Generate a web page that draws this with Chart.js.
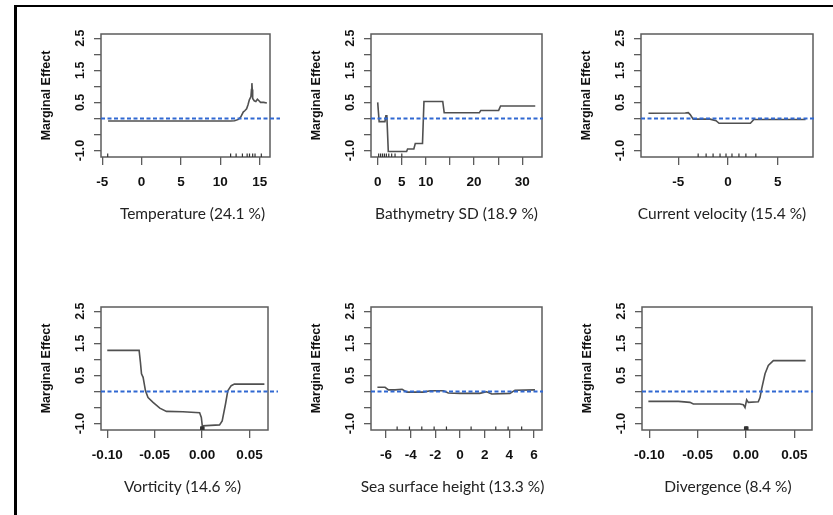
<!DOCTYPE html>
<html>
<head>
<meta charset="utf-8">
<script src="https://cdn.jsdelivr.net/npm/chart.js@4.4.1/dist/chart.umd.min.js"></script>
<style>
  html, body { margin: 0; padding: 0; background: #fff; }
  body { width: 833px; height: 515px; position: relative; overflow: hidden; }
  #moldura { position: absolute; left: 14px; top: 5px; width: 840px; height: 530px;
             border-left: 3px solid #000; border-top: 2px solid #000; }
  canvas { position: absolute; }
</style>
</head>
<body>
<div id="moldura"></div>
<canvas id="p1"></canvas>
<canvas id="p2"></canvas>
<canvas id="p3"></canvas>
<canvas id="p4"></canvas>
<canvas id="p5"></canvas>
<canvas id="p6"></canvas>
<script>
// ===== Dados =====
const yTicks = [-1.0, -0.5, 0.0, 0.5, 1.0, 1.5, 2.0, 2.5];
const yLabelled = [-1.0, 0.5, 1.5, 2.5];

// Temperature
const tempX = [-4.25, 11.3, 11.8, 12.3, 12.6, 12.9, 13.1, 13.33, 13.5, 13.68, 13.88, 13.95, 14.0, 14.05, 14.1, 14.3, 14.5, 14.7, 14.9, 15.1, 15.5, 15.9];
const tempY = [-0.08, -0.08, -0.07, -0.03, 0.05, 0.2, 0.24, 0.3, 0.42, 0.58, 0.68, 0.9, 1.1, 0.9, 0.62, 0.55, 0.53, 0.6, 0.55, 0.5, 0.5, 0.48];
const tempRug = [-4.3, 11.3, 12.0, 12.8, 13.4, 13.7, 14.1, 14.4, 15.2];
const tempTicks = [-5, 0, 5, 10, 15];

// Bathymetry SD
const bathX = [0, 0.3, 1.5, 1.7, 1.9, 2.2, 6.0, 6.2, 7.5, 7.8, 9.3, 9.6, 13.5, 13.8, 21.1, 21.4, 25.1, 25.5, 32.7];
const bathY = [0.5, -0.1, -0.1, 0.08, 0.08, -1.03, -1.03, -0.95, -0.95, -0.78, -0.78, 0.53, 0.53, 0.18, 0.18, 0.25, 0.25, 0.39, 0.39];
const bathRug = [0.2, 0.6, 1.0, 1.4, 1.8, 2.3, 2.9, 3.6, 5.0];
const bathTicks = [0, 5, 10, 15, 20, 25, 30];
const bathLabelled = [0, 5, 10, 20, 30];

// Current velocity
const curX = [-8.0, -4.3, -4.0, -3.8, -3.5, -1.8, -1.2, -0.9, 0.0, 2.25, 2.6, 7.8];
const curY = [0.16, 0.17, 0.18, 0.12, -0.02, -0.02, -0.07, -0.15, -0.15, -0.15, -0.03, -0.03];
const curRug = [-3.0, -2.2, -1.5, -0.8, -0.2, 0.4, 1.1, 1.8, 2.8];
const curTicks = [-5, 0, 5];

// Vorticity
const vortX = [-0.100, -0.0664, -0.0650, -0.0639, -0.0622, -0.0597, -0.0570, -0.0517, -0.0446, -0.0376, -0.0202, -0.0026, -0.0008, 0.0002, 0.0184, 0.0212, 0.0247, 0.0271, 0.0307, 0.0341, 0.0657];
const vortY = [1.28, 1.28, 0.9, 0.55, 0.44, 0.02, -0.19, -0.34, -0.52, -0.62, -0.63, -0.66, -0.81, -1.07, -1.04, -0.92, -0.39, 0.02, 0.18, 0.23, 0.23];
const vortRug = [-0.0015, -0.001, -0.0005, 0, 0.0003, 0.0006, 0.001, 0.0015, 0.002];
const vortTicks = [-0.10, -0.05, 0.00, 0.05];

// Sea surface height
const sshX = [-6.7, -6.08, -5.8, -5.27, -4.7, -4.3, -2.97, -2.4, -1.35, -0.95, 0, 1.6, 2.16, 2.57, 4.05, 4.46, 6.08];
const sshY = [0.13, 0.13, 0.05, 0.05, 0.07, -0.02, -0.02, 0.02, 0.02, -0.05, -0.06, -0.06, -0.01, -0.08, -0.06, 0.04, 0.05];
const sshRug = [-5.1, -4.1, -3.1, -2.1, -1.1, 0.9, 2.9, 3.9, 5.0];
const sshTicks = [-6, -4, -2, 0, 2, 4, 6];

// Divergence
const divX = [-0.101, -0.070, -0.058, -0.0545, -0.0062, -0.0028, -0.001, 0.0007, 0.0024, 0.0127, 0.0145, 0.0162, 0.0197, 0.0231, 0.0283, 0.0617];
const divY = [-0.31, -0.31, -0.34, -0.39, -0.39, -0.41, -0.5, -0.26, -0.34, -0.32, -0.19, 0.08, 0.55, 0.81, 0.96, 0.96];
const divRug = [-0.0015, -0.001, -0.0005, 0, 0.0003, 0.0006, 0.001, 0.0015, 0.002];
const divTicks = [-0.10, -0.05, 0.00, 0.05];

// ===== Aparência =====
const fonteEixo = "'Liberation Sans', Arial, sans-serif";
const fonteTitulo = "Lato, 'Open Sans', sans-serif";
const corCurva = '#505050';
const corCaixa = '#5c5c5c';
const corZero = '#3068d2';

// caixa em volta da área do gráfico (estilo R)
const caixaPlugin = {
  id: 'caixa',
  beforeDatasetsDraw(chart) {
    const { ctx, chartArea: a } = chart;
    ctx.save();
    ctx.strokeStyle = corCaixa;
    ctx.lineWidth = 1.5;
    ctx.strokeRect(a.left, a.top, a.right - a.left, a.bottom - a.top);
    ctx.restore();
  }
};

// marcas de decis (rug) na base
const rugPlugin = {
  id: 'rug',
  afterDatasetsDraw(chart, args, opts) {
    const { ctx, chartArea: a, scales } = chart;
    ctx.save();
    ctx.strokeStyle = '#333';
    ctx.lineWidth = 1.2;
    (opts.values || []).forEach(v => {
      const px = scales.x.getPixelForValue(v);
      ctx.beginPath();
      ctx.moveTo(px, a.bottom);
      ctx.lineTo(px, a.bottom - 3.5);
      ctx.stroke();
    });
    ctx.restore();
  }
};

// linha tracejada azul em y = 0
const zeroPlugin = {
  id: 'zero',
  afterDatasetsDraw(chart, args, opts) {
    const { ctx, chartArea: a, scales } = chart;
    const y0 = scales.y.getPixelForValue(0);
    ctx.save();
    ctx.strokeStyle = corZero;
    ctx.lineWidth = 2;
    ctx.setLineDash([4, 2.5]);
    ctx.beginPath();
    ctx.moveTo(a.left, y0);
    ctx.lineTo(a.right + (opts.extra || 0), y0);
    ctx.stroke();
    ctx.restore();
  }
};

// título do eixo x (variável e % de importância)
const tituloXPlugin = {
  id: 'tituloX',
  afterDraw(chart, args, opts) {
    const { ctx, chartArea: a } = chart;
    ctx.save();
    ctx.font = '15.5px ' + fonteTitulo;
    ctx.fillStyle = '#222';
    ctx.textAlign = 'center';
    ctx.textBaseline = 'middle';
    ctx.fillText(opts.text, (a.left + a.right) / 2 + (opts.dx || 0), a.bottom + 57);
    ctx.restore();
  }
};

// ===== Painéis =====
const paineis = [
  { id: 'p1', box: [101, 34, 270, 157], xs: tempX, ys: tempY, rug: tempRug, ticks: tempTicks,
    min: -5.15, max: 16.3, titulo: 'Temperature (24.1 %)', dx: 7, extra: 10, fmt: v => String(v) },
  { id: 'p2', box: [371, 34, 542, 157], xs: bathX, ys: bathY, rug: bathRug, ticks: bathTicks,
    min: -1.39, max: 34.1, titulo: 'Bathymetry SD (18.9 %)', dx: 0, extra: 1,
    fmt: v => bathLabelled.includes(v) ? String(v) : '' },
  { id: 'p3', box: [641, 34, 813, 157], xs: curX, ys: curY, rug: curRug, ticks: curTicks,
    min: -8.75, max: 8.55, titulo: 'Current velocity (15.4 %)', dx: -5, extra: 2, fmt: v => String(v) },
  { id: 'p4', box: [101, 307, 268, 430], xs: vortX, ys: vortY, rug: vortRug, ticks: vortTicks,
    min: -0.1066, max: 0.0695, titulo: 'Vorticity (14.6 %)', dx: -2, extra: 10, fmt: v => v.toFixed(2) },
  { id: 'p5', box: [371, 307, 542, 430], xs: sshX, ys: sshY, rug: sshRug, ticks: sshTicks,
    min: -7.22, max: 6.65, titulo: 'Sea surface height (13.3 %)', dx: -4, extra: 1, fmt: v => String(v) },
  { id: 'p6', box: [642, 307, 812, 430], xs: divX, ys: divY, rug: divRug, ticks: divTicks,
    min: -0.1076, max: 0.0683, titulo: 'Divergence (8.4 %)', dx: 1, extra: 1, fmt: v => v.toFixed(2) }
];

const ESQ = 80, TOPO = 20, DIR = 20, BAIXO = 80;

paineis.forEach(p => {
  const [L, T, R, B] = p.box;
  const canvas = document.getElementById(p.id);
  canvas.width = (R - L) + ESQ + DIR;
  canvas.height = (B - T) + TOPO + BAIXO;
  canvas.style.left = (L - ESQ) + 'px';
  canvas.style.top = (T - TOPO) + 'px';

  new Chart(canvas.getContext('2d'), {
    type: 'scatter',
    data: {
      datasets: [{
        data: p.xs.map((x, i) => ({ x: x, y: p.ys[i] })),
        showLine: true,
        borderColor: corCurva,
        borderWidth: 1.6,
        pointRadius: 0,
        tension: 0
      }]
    },
    options: {
      responsive: false,
      animation: false,
      layout: { padding: { left: 0, top: TOPO, right: DIR, bottom: 0 } },
      plugins: {
        legend: { display: false },
        tooltip: { enabled: false },
        rug: { values: p.rug },
        zero: { extra: p.extra },
        tituloX: { text: p.titulo, dx: p.dx }
      },
      scales: {
        x: {
          type: 'linear',
          min: p.min,
          max: p.max,
          afterBuildTicks: s => { s.ticks = p.ticks.map(v => ({ value: v })); },
          afterFit: s => { s.height = BAIXO; },
          border: { display: false },
          grid: { drawOnChartArea: false, drawTicks: true, tickLength: 8, color: corCaixa, lineWidth: 1.3 },
          ticks: {
            autoSkip: false, maxRotation: 0, minRotation: 0, padding: 9,
            color: '#111', font: { family: fonteEixo, size: 13.5, weight: 'bold' },
            callback: v => p.fmt(v)
          }
        },
        y: {
          type: 'linear',
          min: -1.2,
          max: 2.63,
          afterBuildTicks: s => { s.ticks = yTicks.map(v => ({ value: v })); },
          afterFit: s => { s.width = ESQ; },
          border: { display: false },
          grid: { drawOnChartArea: false, drawTicks: true, tickLength: 7, color: corCaixa, lineWidth: 1.3 },
          ticks: {
            autoSkip: false, minRotation: 90, maxRotation: 90, crossAlign: 'center', padding: 3,
            color: '#111', font: { family: fonteEixo, size: 12.5, weight: 'bold' },
            callback: v => yLabelled.includes(v) ? v.toFixed(1) : ''
          },
          title: {
            display: true, text: 'Marginal Effect', color: '#111',
            font: { family: fonteEixo, size: 12.5, weight: 'bold' },
            padding: { top: 18.5, bottom: 0 }
          }
        }
      }
    },
    plugins: [caixaPlugin, rugPlugin, zeroPlugin, tituloXPlugin]
  });
});
</script>
</body>
</html>
